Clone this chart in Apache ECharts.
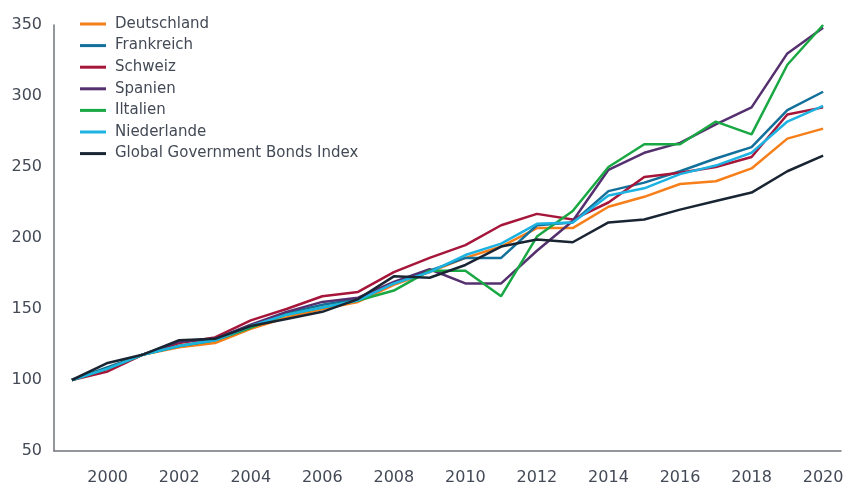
<!DOCTYPE html>
<html>
<head>
<meta charset="utf-8">
<script src="https://cdn.jsdelivr.net/npm/echarts@6/dist/echarts.min.js"></script>
<style>html,body{margin:0;padding:0;background:#fff}#c{width:843px;height:486px}</style>
</head>
<body>
<div id="c"></div>
<script>
const years = ['1999','2000','2001','2002','2003','2004','2005','2006','2007','2008','2009','2010','2011','2012','2013','2014','2015','2016','2017','2018','2019','2020'];
const deutschland = [100,108,118,123,126,136,144,150,155,167,176,186,194,207,207,222,229,238,240,249,270,277];
const frankreich  = [100,109,118,124,128,137,147,153,157,168,177,186,186,209,211,233,239,247,256,264,290,303];
const schweiz     = [100,106,118,126,130,142,150,159,162,176,186,195,209,217,213,225,243,246,250,257,287,292];
const spanien     = [100,108,118,127,129,139,148,155,158,169,178,168,168,191,212,248,260,267,280,292,330,348];
const italien     = [100,108,118,124,128,137,146,151,156,163,177,177,159,201,219,250,266,266,282,273,322,350];
const niederlande = [100,108,118,124,128,138,146,151,156,168,176,188,196,210,211,230,235,245,251,260,282,293];
const globalIdx   = [100,112,118,128,129,138,143,148,157,173,172,181,194,199,197,211,213,220,226,232,247,258];

const seriesDefs = [
  ['Deutschland', deutschland, '#f77f1a'],
  ['Frankreich', frankreich, '#12709a'],
  ['Schweiz', schweiz, '#a6163a'],
  ['Spanien', spanien, '#55306f'],
  ['Iltalien', italien, '#19a843'],
  ['Niederlande', niederlande, '#1cb3e3'],
  ['Global Government Bonds Index', globalIdx, '#1a2533']
];
const font = 'DejaVu Sans, Liberation Sans, sans-serif';
const chart = echarts.init(document.getElementById('c'));
chart.setOption({
  animation: false,
  backgroundColor: '#fff',
  grid: {left: 54, right: 2, top: 25, bottom: 35, outerBoundsMode: 'none', containLabel: false},
  legend: {
    orient: 'vertical', left: 80, top: 16, padding: 0,
    icon: 'rect', itemWidth: 26, itemHeight: 3, itemGap: 5.6,
    textStyle: {fontFamily: font, fontSize: 15, lineHeight: 16, color: '#434a56', padding: [0,0,0,4]},
    data: seriesDefs.map(s => s[0])
  },
  xAxis: {
    type: 'category', data: years, boundaryGap: true,
    axisLine: {lineStyle: {color: '#6f747a', width: 1.5}},
    axisTick: {show: false},
    axisLabel: {
      interval: (i) => i % 2 === 1,
      margin: 19, fontFamily: font, fontSize: 16, color: '#434a56'
    }
  },
  yAxis: {
    type: 'value', min: 50, max: 350, interval: 50,
    axisLine: {show: true, lineStyle: {color: '#6f747a', width: 1.5}},
    axisTick: {show: false},
    splitLine: {show: false},
    axisLabel: {margin: 12, fontFamily: font, fontSize: 16, color: '#434a56'}
  },
  series: seriesDefs.map(s => ({
    name: s[0], type: 'line', data: s[1], showSymbol: false, symbol: 'none',
    lineStyle: {color: s[2], width: 2.5}, itemStyle: {color: s[2]}
  }))
});
</script>
</body>
</html>
